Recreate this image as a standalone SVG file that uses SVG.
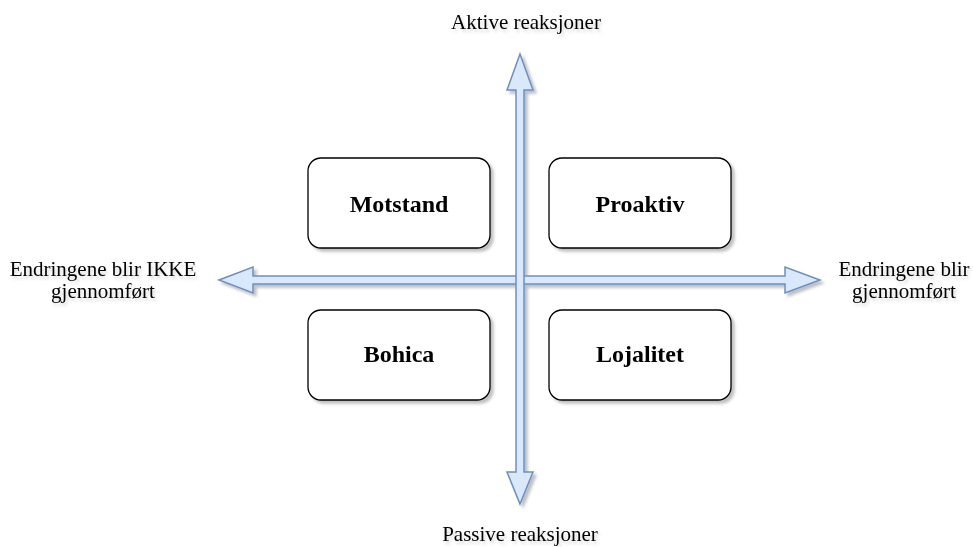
<svg xmlns="http://www.w3.org/2000/svg" width="973" height="547" viewBox="0 0 973 547">
<defs>
<filter id="sh" x="-20%" y="-20%" width="140%" height="140%">
<feDropShadow dx="3" dy="3" stdDeviation="1.5" flood-color="#000" flood-opacity="0.25"/>
</filter>
<filter id="tsh" x="-20%" y="-20%" width="140%" height="160%">
<feDropShadow dx="2" dy="3" stdDeviation="1.5" flood-color="#000" flood-opacity="0.15"/>
</filter>
</defs>
<style>
.box{fill:#ffffff;stroke:#000000;stroke-width:1.3}
.arr{fill:#dae8fc;stroke:#6c8ebf;stroke-width:1.5;stroke-linejoin:miter}
.lbl{font-family:"Liberation Serif","Times New Roman",serif;font-weight:bold;font-size:24px;fill:#000;text-anchor:middle}
.ax{font-family:"Liberation Serif","Times New Roman",serif;font-size:21px;fill:#000;text-anchor:middle}
</style>
<rect width="973" height="547" fill="#ffffff"/>
<g id="connectors" filter="url(#sh)">
<polygon class="arr" points="219,280 253,267 253,276 785,276 785,267 820,280 785,293 785,284 253,284 253,293"/>
<polygon class="arr" points="520,54 533,90 524,90 524,472 533,472 520,504 507,472 516,472 516,90 507,90"/>
</g>
<g id="motstand" filter="url(#sh)">
<rect class="box" x="308" y="158" width="182" height="90" rx="13"/>
<text class="lbl" x="399" y="212">Motstand</text>
</g>
<g id="proaktiv" filter="url(#sh)">
<rect class="box" x="549" y="158" width="182" height="90" rx="13"/>
<text class="lbl" x="640" y="212">Proaktiv</text>
</g>
<g id="bohica" filter="url(#sh)">
<rect class="box" x="308" y="310" width="182" height="90" rx="13"/>
<text class="lbl" x="399" y="362">Bohica</text>
</g>
<g id="lojalitet" filter="url(#sh)">
<rect class="box" x="549" y="310" width="182" height="90" rx="13"/>
<text class="lbl" x="640" y="362">Lojalitet</text>
</g>
<g id="aktive" filter="url(#tsh)">
<text class="ax" x="526" y="29">Aktive reaksjoner</text>
</g>
<g id="passive" filter="url(#tsh)">
<text class="ax" x="520" y="541">Passive reaksjoner</text>
</g>
<g id="ikke" filter="url(#tsh)">
<text class="ax" x="103" y="276">Endringene blir IKKE</text>
<text class="ax" x="103" y="298">gjennomført</text>
</g>
<g id="blir" filter="url(#tsh)">
<text class="ax" x="904" y="276">Endringene blir</text>
<text class="ax" x="904" y="298">gjennomført</text>
</g>
</svg>
